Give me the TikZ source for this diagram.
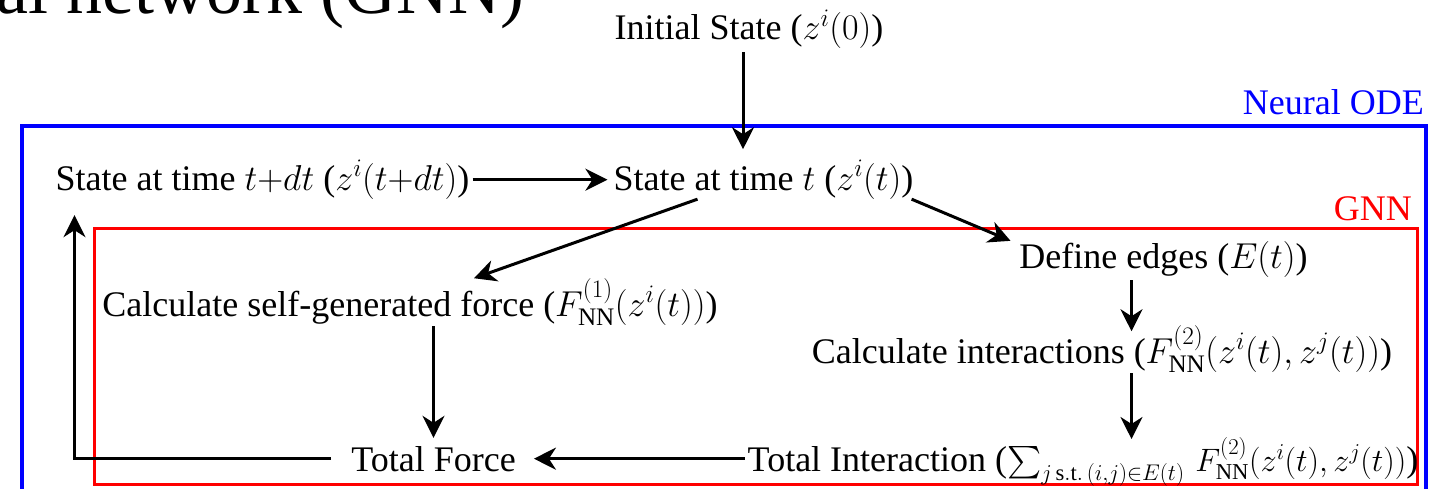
\RequirePackage{fix-cm}
\documentclass[tikz,border=0pt]{standalone}
\usepackage{fontspec}
\setmainfont{Liberation Serif}
\DeclareFontFamily{OMX}{cmex}{}
\DeclareFontShape{OMX}{cmex}{m}{n}{<-> cmex10}{}
\usetikzlibrary{arrows.meta,calc}
\begin{document}
\begin{tikzpicture}[x=1pt,y=-1pt,
  lbl/.style={font=\fontsize{36}{40}\selectfont, inner sep=0pt, anchor=base},
  arr/.style={line width=3pt, -{Stealth[length=22pt,width=22pt,inset=7pt]}},
  odebox/.style={draw=blue, line width=4pt},
  gnnbox/.style={draw=red, line width=3pt}]
\useasboundingbox (0,0) rectangle (1445,489);
\clip (0,0) rectangle (1445,489);
% clipped title
\node[font=\fontsize{72}{80}\selectfont, inner sep=0pt, anchor=base east] (title) at (525,14) {al network (GNN)};
% frames
\draw[odebox] (22,520) -- (22,126) -- (1426,126) -- (1426,520);
\node[lbl, blue, anchor=base east] (odelbl) at (1424,115) {Neural ODE};
\draw[gnnbox] (94,228) rectangle (1417,484);
\node[lbl, red, anchor=base east] (gnnlbl) at (1412,221) {GNN};
% nodes
\node[lbl] (init) at (749,40) {Initial State ($z^i(0)$)};
\node[lbl] (tdt) at (262.5,190) {State at time $t{+}dt$ ($z^i(t{+}dt)$)};
\node[lbl] (st) at (763.5,190) {State at time $t$ ($z^i(t)$)};
\node[lbl] (edges) at (1163.5,268) {Define edges ($E(t)$)};
\node[lbl] (self) at (410,316) {Calculate self-generated force ($F^{(1)}_{\mathrm{NN}}(z^i(t))$)};
\node[lbl] (inter) at (1102,363) {Calculate interactions ($F^{(2)}_{\mathrm{NN}}(z^i(t),z^j(t))$)};
\node[lbl] (totint) at (1083,471) {Total Interaction (\scalebox{0.9}{$\sum_{j\,\mathrm{s.t.}\,(i,j)\in E(t)}\, F^{(2)}_{\mathrm{NN}}(z^i(t),z^j(t))$})};
\node[lbl] (tf) at (433.5,471) {Total Force};
% connectors
\draw[arr] ($(init.south)+(-6,3)$) -- ($(init.south |- st.north)+(-6,-11)$);
\draw[arr, shorten <=3pt, shorten >=6pt] (tdt.east) -- (st.west);
\draw[arr] ($(st.south)+(-66,0)$) -- ($(self.north)+(64,0)$);
\draw[arr] ($(st.south east)+(-2,0)$) -- ($(edges.north)+(-153,0)$);
\coordinate (ex) at ($(edges.south)+(-32,3)$);
\draw[arr] (ex) -- ($(ex |- inter.north)+(0,6)$);
\draw[arr] (ex |- inter.south) -- ($(ex |- totint.north)+(0,2)$);
\draw[arr] (self.south -| tf.north) -- ($(tf.north)+(0,-8)$);
\draw[arr] ($(tf.east -| totint.west)+(-3,0)$) -- ($(tf.east)+(18,0)$);
\draw[arr] ($(tf.west)+(-20,0)$) -| ($(tdt.south)+(-188,16)$);
\end{tikzpicture}
\end{document}
